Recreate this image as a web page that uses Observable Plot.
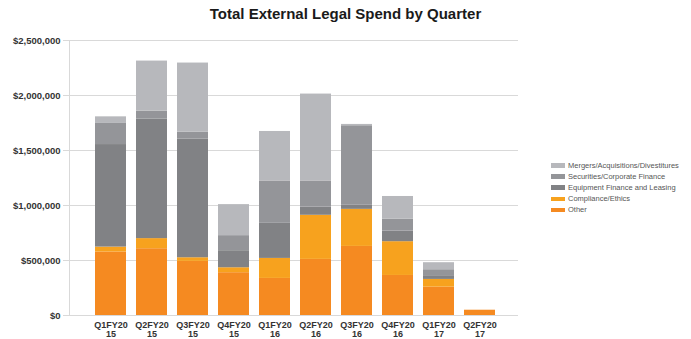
<!DOCTYPE html>
<html><head><meta charset="utf-8">
<script src="https://cdn.jsdelivr.net/npm/d3@7"></script>
<script src="https://cdn.jsdelivr.net/npm/@observablehq/plot@0.6"></script>
<style>
body{margin:0;background:#fff;font-family:"Liberation Sans",Arial,sans-serif}
#wrap{position:relative;width:691px;height:339px;overflow:hidden;background:#fff}
#title{position:absolute;left:0;top:5px;width:691px;text-align:center;font-size:15px;font-weight:bold;color:#1a1a1a;z-index:2}
#legend{position:absolute;left:551px;top:160px;font-size:7.5px;color:#555;z-index:2}
.row{display:flex;align-items:center;height:11.1px}
.sw{width:14px;height:4.5px;margin-right:3px}
#chart svg{display:block}
</style>
</head><body>
<div id="wrap">
  <div id="title">Total External Legal Spend by Quarter</div>
  <div id="chart"></div>
  <div id="legend"></div>
</div>
<script>
const quarters = ["Q1FY2015","Q2FY2015","Q3FY2015","Q4FY2015","Q1FY2016","Q2FY2016","Q3FY2016","Q4FY2016","Q1FY2017","Q2FY2017"];
const tickLabels = ["Q1FY20\n15","Q2FY20\n15","Q3FY20\n15","Q4FY20\n15","Q1FY20\n16","Q2FY20\n16","Q3FY20\n16","Q4FY20\n16","Q1FY20\n17","Q2FY20\n17"];
const seriesNames = ["Other","Compliance/Ethics","Equipment Finance and Leasing","Securities/Corporate Finance","Mergers/Acquisitions/Divestitures"];
const seriesColors = ["#f58a21","#f7a21e","#818285","#949599","#b7b8bc"];
const other      = [577000, 607000, 492000, 389000, 337000, 510000, 628000, 364000, 258000, 48000];
const compliance = [45000, 92000, 33000, 45000, 182000, 401000, 337000, 307000, 70000, 0];
const equipment  = [932000, 1086000, 1078000, 155000, 319000, 75000, 37000, 97000, 27000, 0];
const securities = [192000, 73000, 64000, 137000, 385000, 237000, 723000, 107000, 61000, 0];
const mergers    = [60000, 455000, 628000, 282000, 450000, 790000, 12000, 207000, 64000, 0];
const yTicks = [0, 500000, 1000000, 1500000, 2000000, 2500000];

const seriesValues = [other, compliance, equipment, securities, mergers];
const data = [];
seriesNames.forEach((s, si) => quarters.forEach((q, qi) => data.push({quarter: q, series: s, value: seriesValues[si][qi]})));

const chart = Plot.plot({
  width: 691, height: 339,
  marginTop: 40, marginBottom: 24, marginLeft: 69, marginRight: 173,
  style: {fontFamily: "'Liberation Sans', Arial, sans-serif", fontSize: "9px", background: "white", overflow: "visible"},
  x: {domain: quarters, paddingInner: 0.237, paddingOuter: 0, insetLeft: 24.3, insetRight: 21.5, label: null},
  y: {domain: [0, 2500000], label: null},
  color: {domain: seriesNames, range: seriesColors},
  marks: [
    Plot.gridY(yTicks, {stroke: "#d9d9d9", strokeOpacity: 1}),
    Plot.frame({anchor: "left", stroke: "#d9d9d9"}),
    Plot.axisY(yTicks, {tickSize: 6, tickPadding: 3, stroke: "#d9d9d9", fill: "#333", fontWeight: "bold", fontSize: 9.5, label: null,
      tickFormat: d => "$" + d3.format(",")(d)}),
    Plot.axisX({tickSize: 0, tickPadding: 5, fill: "#333", fontWeight: "bold", fontSize: 9, lineHeight: 1.1, label: null,
      tickFormat: (d) => tickLabels[quarters.indexOf(d)]}),
    Plot.barY(data, {x: "quarter", y: "value", fill: "series"})
  ]
});
document.getElementById("chart").appendChild(chart);

const legend = document.getElementById("legend");
seriesNames.slice().reverse().forEach((s) => {
  const i = seriesNames.indexOf(s);
  const row = document.createElement("div");
  row.className = "row";
  row.innerHTML = `<div class="sw" style="background:${seriesColors[i]}"></div><span>${s}</span>`;
  legend.appendChild(row);
});
</script>
</body></html>
